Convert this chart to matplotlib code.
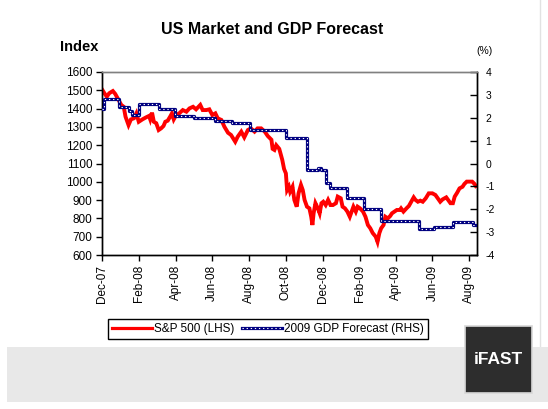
import matplotlib
matplotlib.use("Agg")
import matplotlib.pyplot as plt
import matplotlib.dates as mdates
from matplotlib.patches import Rectangle
from matplotlib.lines import Line2D
import pandas as pd

plt.rcParams['font.family'] = ['Liberation Sans', 'DejaVu Sans']
plt.rcParams['axes.unicode_minus'] = False

# ---- data ----
sp_dates = [
    "2007-12-01", "2007-12-05", "2007-12-09", "2007-12-13", "2007-12-19", "2007-12-23", "2007-12-27",
    "2008-01-02", "2008-01-06", "2008-01-09", "2008-01-14", "2008-01-18", "2008-01-23", "2008-01-27", "2008-01-31",
    "2008-02-06", "2008-02-12", "2008-02-17", "2008-02-19", "2008-02-22", "2008-02-25", "2008-02-29",
    "2008-03-04", "2008-03-08", "2008-03-12", "2008-03-15", "2008-03-19", "2008-03-23", "2008-03-26", "2008-03-29",
    "2008-04-02", "2008-04-07", "2008-04-13", "2008-04-19", "2008-04-24", "2008-04-30",
    "2008-05-05", "2008-05-12", "2008-05-16", "2008-05-22", "2008-05-27",
    "2008-06-01", "2008-06-06", "2008-06-10", "2008-06-16", "2008-06-21", "2008-06-27",
    "2008-07-02", "2008-07-09", "2008-07-13", "2008-07-19", "2008-07-24", "2008-07-30",
    "2008-08-04", "2008-08-10", "2008-08-15", "2008-08-21", "2008-08-27",
    "2008-09-01", "2008-09-07", "2008-09-09", "2008-09-12", "2008-09-15", "2008-09-20", "2008-09-25", "2008-09-28",
    "2008-10-01", "2008-10-03", "2008-10-06", "2008-10-08", "2008-10-12", "2008-10-15", "2008-10-19",
    "2008-10-22", "2008-10-26", "2008-10-29",
    "2008-11-01", "2008-11-05", "2008-11-09", "2008-11-12", "2008-11-14", "2008-11-16", "2008-11-19",
    "2008-11-23", "2008-11-26", "2008-11-29",
    "2008-12-02", "2008-12-06", "2008-12-10", "2008-12-14", "2008-12-18", "2008-12-23", "2008-12-26", "2008-12-31",
    "2009-01-03", "2009-01-07", "2009-01-11", "2009-01-15", "2009-01-18", "2009-01-21", "2009-01-25", "2009-01-28",
    "2009-02-01", "2009-02-06", "2009-02-10", "2009-02-14", "2009-02-18", "2009-02-22", "2009-02-27",
    "2009-03-02", "2009-03-05", "2009-03-08", "2009-03-12", "2009-03-15", "2009-03-19", "2009-03-23",
    "2009-03-26", "2009-03-30",
    "2009-04-03", "2009-04-08", "2009-04-10", "2009-04-14", "2009-04-19", "2009-04-23", "2009-04-27",
    "2009-05-01", "2009-05-04", "2009-05-08", "2009-05-12", "2009-05-16", "2009-05-21", "2009-05-26",
    "2009-06-01", "2009-06-06", "2009-06-10", "2009-06-14", "2009-06-18", "2009-06-24", "2009-06-27",
    "2009-07-01", "2009-07-05", "2009-07-08", "2009-07-12", "2009-07-16", "2009-07-21", "2009-07-24", "2009-07-28",
    "2009-08-02", "2009-08-06", "2009-08-10", "2009-08-12",
]
sp_values = [
    1505, 1484, 1465, 1484, 1496, 1480, 1456,
    1420, 1410, 1356, 1310, 1341, 1347, 1374, 1328,
    1341, 1352, 1360, 1341, 1378, 1328, 1320,
    1283, 1292, 1305, 1328, 1334, 1356, 1374, 1341,
    1365, 1374, 1392, 1383, 1401, 1410,
    1396, 1420, 1392, 1392, 1396,
    1365, 1374, 1347, 1338, 1301, 1268,
    1256, 1219, 1246, 1274, 1243, 1283,
    1292, 1274, 1292, 1292, 1274,
    1250, 1230, 1180, 1174, 1200, 1180, 1120, 1070,
    1046, 955, 973, 946, 973, 901, 864,
    937, 983, 955,
    901, 864, 855, 809, 764, 828, 883,
    855, 828, 883,
    891, 873, 901, 873, 873, 883, 919, 910,
    864, 855, 837, 809, 837, 864, 837, 864,
    855, 837, 809, 764, 746, 720, 700,
    672, 719, 746, 764, 809, 800, 813,
    828, 837,
    846, 846, 855, 837, 855, 868, 891,
    915, 901, 891, 897, 891, 910, 937,
    937, 928, 910, 891, 904, 915, 901,
    883, 883, 919, 940, 964, 973, 988, 1001,
    1001, 1001, 988, 977,
]

gdp_dates = [
    "2007-12-01", "2007-12-04", "2007-12-30", "2008-01-14", "2008-01-19", "2008-01-31",
    "2008-03-04", "2008-03-31", "2008-05-01", "2008-06-06", "2008-07-04", "2008-08-02",
    "2008-10-02", "2008-11-05", "2008-11-23", "2008-11-28", "2008-12-06", "2008-12-14",
    "2009-01-10", "2009-02-07", "2009-03-07", "2009-05-09", "2009-06-04", "2009-07-05",
    "2009-08-07", "2009-08-14",
]
gdp_values = [
    2.4, 2.8, 2.47, 2.3, 2.12, 2.6,
    2.38, 2.08, 1.97, 1.84, 1.77, 1.46,
    1.1, -0.3, -0.2, -0.3, -0.85, -1.08,
    -1.5, -2.0, -2.5, -2.86, -2.76, -2.57,
    -2.69, -2.69,
]

left_ticks = list(range(600, 1601, 100))
right_ticks = list(range(-4, 5))
x_tick_dates = ["2007-12-01", "2008-02-01", "2008-04-01", "2008-06-01", "2008-08-01", "2008-10-01",
                "2008-12-01", "2009-02-01", "2009-04-01", "2009-06-01", "2009-08-01"]
x_limits = ["2007-12-01", "2009-08-14"]

sp_x = pd.to_datetime(sp_dates)
gdp_x = pd.to_datetime(gdp_dates)

W, H = 548, 409
fig = plt.figure(figsize=(W / 100, H / 100), dpi=100)
fig.patch.set_facecolor("white")

# background band and frame
fig.patches.append(Rectangle((7 / W, 1 - 402 / H), (W - 7) / W, 55 / H,
                             transform=fig.transFigure, facecolor="#e8e8e8", edgecolor="none", zorder=0))
fig.add_artist(Line2D([540 / W, 540 / W], [1 - 347 / H, 1.0], transform=fig.transFigure,
                      color="#e2e2e2", lw=1, zorder=0))
fig.patches.append(Rectangle((465 / W, 1 - 393 / H), 67 / W, 67 / H,
                             transform=fig.transFigure, facecolor="#2d2d2d", edgecolor="#d8d8d8",
                             lw=1.2, zorder=1))
fig.text(498.5 / W, 1 - 360 / H, "iFAST", color="white", fontsize=12.5, fontweight="bold",
         ha="center", va="center", zorder=2)

ax = fig.add_axes([102 / W, 1 - 255 / H, 375 / W, 183 / H])
ax2 = ax.twinx()

ax.plot(sp_x, sp_values, color="#ff0000", lw=2.8, solid_joinstyle="miter", zorder=2)

b1, = ax2.plot(gdp_x, gdp_values, color="#000080", lw=2.3, drawstyle="steps-post", zorder=3)
b2, = ax2.plot(gdp_x, gdp_values, color="white", lw=0.8, drawstyle="steps-post",
               dashes=(1.2, 2.5), zorder=4)

ax.set_xlim(pd.to_datetime(x_limits[0]), pd.to_datetime(x_limits[1]))
ax.set_ylim(600, 1600)
ax2.set_ylim(-4, 4)
ax.set_yticks(left_ticks)
ax2.set_yticks(right_ticks)
ax.set_xticks(pd.to_datetime(x_tick_dates))
ax.xaxis.set_major_formatter(mdates.DateFormatter("%b-%y"))

ax.tick_params(axis="y", direction="out", length=4, width=1, pad=3, labelsize=8.5, colors="black")
ax.tick_params(axis="x", direction="out", length=4, width=1, pad=3, labelsize=8.5,
               labelrotation=90, colors="black")
ax2.tick_params(axis="y", direction="in", length=5, width=1, pad=6, labelsize=7.5, colors="black")

for a in (ax, ax2):
    a.spines["top"].set_color("#808080")
    a.spines["left"].set_color("black")
    a.spines["right"].set_color("black")
    a.spines["bottom"].set_color("black")
    for s in a.spines.values():
        s.set_linewidth(1)
ax.patch.set_alpha(0)

fig.text(272 / W, 1 - 30 / H, "US Market and GDP Forecast", fontsize=11.5, fontweight="bold",
         ha="center", va="center")
fig.text(60 / W, 1 - 47 / H, "Index", fontsize=10.5, fontweight="bold", ha="left", va="center")
fig.text(476 / W, 1 - 51 / H, "(%)", fontsize=7.5, ha="left", va="center")

red_handle = Line2D([], [], color="#ff0000", lw=2.3)
leg = fig.legend([red_handle, (b1, b2)], ["S&P 500 (LHS)", "2009 GDP Forecast (RHS)"],
                 loc="center", bbox_to_anchor=(268 / W, 1 - 329 / H), ncol=2,
                 fontsize=8.5, frameon=True, fancybox=False, framealpha=1, edgecolor="black",
                 handlelength=3.4, handletextpad=0.2, columnspacing=0.6, borderpad=0.35,
                 borderaxespad=0)
leg.get_frame().set_linewidth(1)

fig.savefig("out.png", dpi=100)
